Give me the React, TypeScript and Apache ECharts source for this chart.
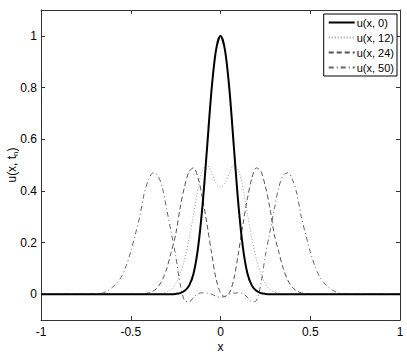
import React, { useEffect, useRef } from "react";
import * as echarts from "echarts";

const xs = [-1, -0.7, -0.675, -0.65, -0.625, -0.6, -0.575, -0.55, -0.525, -0.5, -0.475, -0.45, -0.425, -0.4, -0.375, -0.35, -0.325, -0.3, -0.275, -0.25, -0.225, -0.2, -0.175, -0.15, -0.125, -0.1, -0.075, -0.05, -0.025, 0, 0.025, 0.05, 0.075, 0.1, 0.125, 0.15, 0.175, 0.2, 0.225, 0.25, 0.275, 0.3, 0.325, 0.35, 0.375, 0.4, 0.425, 0.45, 0.475, 0.5, 0.525, 0.55, 0.575, 0.6, 0.625, 0.65, 0.675, 0.7, 1];

const u0 = [0, 0, 0, 0, 0, 0, 0, 0, 0, 0, 0, 0, 0, 0, 0, 0, 0, 0, 0, 0.001, 0.004, 0.013, 0.033, 0.08, 0.18, 0.345, 0.565, 0.79, 0.945, 1, 0.945, 0.79, 0.565, 0.345, 0.18, 0.08, 0.033, 0.013, 0.004, 0.001, 0, 0, 0, 0, 0, 0, 0, 0, 0, 0, 0, 0, 0, 0, 0, 0, 0, 0, 0];

const u12 = [0, 0, 0, 0, 0, 0, 0, 0, 0, 0, 0, 0, 0, 0, 0, 0, 0.003, 0.008, 0.018, 0.04, 0.078, 0.135, 0.215, 0.31, 0.41, 0.48, 0.5, 0.47, 0.43, 0.414, 0.43, 0.47, 0.5, 0.48, 0.41, 0.31, 0.215, 0.135, 0.078, 0.04, 0.018, 0.008, 0.003, 0, 0, 0, 0, 0, 0, 0, 0, 0, 0, 0, 0, 0, 0, 0, 0];

const u24 = [0, 0, 0, 0, 0, 0, 0, 0, 0, 0, 0, 0, 0.002, 0.005, 0.012, 0.027, 0.054, 0.098, 0.162, 0.23, 0.334, 0.417, 0.475, 0.489, 0.45, 0.37, 0.27, 0.16, 0.06, 0.005, -0.01, 0.005, 0.06, 0.16, 0.27, 0.37, 0.45, 0.489, 0.475, 0.417, 0.334, 0.23, 0.162, 0.098, 0.054, 0.027, 0.012, 0.005, 0.002, 0, 0, 0, 0, 0, 0, 0, 0, 0, 0];

const u50 = [0, 0, 0.002, 0.006, 0.015, 0.028, 0.045, 0.07, 0.11, 0.165, 0.23, 0.3, 0.39, 0.445, 0.47, 0.46, 0.415, 0.33, 0.24, 0.15, 0.04, -0.025, -0.03, -0.012, 0.002, 0.005, 0.004, 0, -0.008, -0.012, -0.008, 0, 0.004, 0.005, 0.002, -0.012, -0.03, -0.025, 0.04, 0.15, 0.24, 0.33, 0.415, 0.46, 0.47, 0.445, 0.39, 0.3, 0.23, 0.165, 0.11, 0.07, 0.045, 0.028, 0.015, 0.006, 0.002, 0, 0];

const seriesNames = ["u(x, 0)", "u(x, 12)", "u(x, 24)", "u(x, 50)"];
const yTicks = [0, 0.2, 0.4, 0.6, 0.8, 1];
const xTicks = [-1, -0.5, 0, 0.5, 1];

const FONT = "Liberation Sans, Arial, Helvetica, sans-serif";

export default function App() {
  const ref = useRef<HTMLDivElement>(null);
  useEffect(() => {
    if (!ref.current) return;
    const chart = echarts.init(ref.current, null, { renderer: "svg" });
    const pair = (ys: number[]) => xs.map((x, i) => [x, ys[i]]);
    const axisColor = "#333";
    const baseX = {
      type: "value" as const,
      min: -1,
      max: 1,
      interval: 0.5,
      splitLine: { show: false },
      axisLine: { show: true, onZero: false, lineStyle: { color: axisColor, width: 1 } },
      axisTick: { show: true, inside: true, length: 4, lineStyle: { color: axisColor }, customValues: xTicks },
    };
    const baseY = {
      type: "value" as const,
      min: -0.1,
      max: 1.1,
      splitLine: { show: false },
      axisLine: { show: true, onZero: false, lineStyle: { color: axisColor, width: 1 } },
      axisTick: { show: true, inside: true, length: 4, lineStyle: { color: axisColor }, customValues: yTicks },
    };
    chart.setOption({
      animation: false,
      backgroundColor: "#fff",
      textStyle: { fontFamily: FONT },
      grid: { left: 41, right: 7, top: 10, bottom: 34, containLabel: false, outerBoundsMode: "none" },
      legend: {
        data: seriesNames,
        orient: "vertical",
        right: 10,
        top: 14,
        itemWidth: 26,
        itemHeight: 11,
        itemGap: 4,
        padding: [3, 3, 3, 4],
        borderColor: "#000",
        borderWidth: 1,
        borderRadius: 0,
        backgroundColor: "#fff",
        itemStyle: { opacity: 0 },
        textStyle: { fontFamily: FONT, fontSize: 11, color: "#000", padding: [0, 0, 0, -3] },
      },
      xAxis: [
        {
          ...baseX,
          position: "bottom",
          name: "x",
          nameLocation: "middle",
          nameGap: 21,
          nameMoveOverlap: false,
          nameTextStyle: { fontFamily: FONT, fontSize: 12, color: "#000" },
          axisLabel: { show: true, fontFamily: FONT, fontSize: 12, color: "#000", margin: 6, customValues: xTicks },
        },
        { ...baseX, position: "top", axisLabel: { show: false } },
      ],
      yAxis: [
        {
          ...baseY,
          position: "left",
          name: "{a|u(x, t}{s|n}{a|)}",
          nameLocation: "middle",
          nameGap: 22,
          nameRotate: 90,
          nameMoveOverlap: false,
          nameTextStyle: {
            fontFamily: FONT,
            color: "#000",
            rich: {
              a: { fontFamily: FONT, fontSize: 12, color: "#000", lineHeight: 14, verticalAlign: "middle" },
              s: { fontFamily: FONT, fontSize: 8, color: "#000", lineHeight: 14, verticalAlign: "bottom" },
            },
          },
          axisLabel: { show: true, fontFamily: FONT, fontSize: 12, color: "#000", margin: 4, customValues: yTicks },
        },
        { ...baseY, position: "right", axisLabel: { show: false } },
      ],
      series: [
        {
          name: seriesNames[0],
          type: "line",
          data: pair(u0),
          symbol: "none",
          smooth: 0.3,
          z: 5,
          lineStyle: { color: "#000", width: 2, type: "solid" },
          itemStyle: { color: "#000" },
        },
        {
          name: seriesNames[1],
          type: "line",
          data: pair(u12),
          symbol: "none",
          smooth: 0.3,
          z: 3,
          lineStyle: { color: "#999", width: 1, type: [1, 2] },
          itemStyle: { color: "#999" },
        },
        {
          name: seriesNames[2],
          type: "line",
          data: pair(u24),
          symbol: "none",
          smooth: 0.3,
          z: 3,
          lineStyle: { color: "#555", width: 1, type: [5, 3] },
          itemStyle: { color: "#555" },
        },
        {
          name: seriesNames[3],
          type: "line",
          data: pair(u50),
          symbol: "none",
          smooth: 0.3,
          z: 3,
          lineStyle: { color: "#666", width: 1, type: [5, 3, 1, 3] },
          itemStyle: { color: "#666" },
        },
      ],
    });
    return () => chart.dispose();
  }, []);
  return (
    <div
      ref={ref}
      style={{ position: "absolute", left: 0, top: 0, width: 407, height: 354 }}
    />
  );
}
